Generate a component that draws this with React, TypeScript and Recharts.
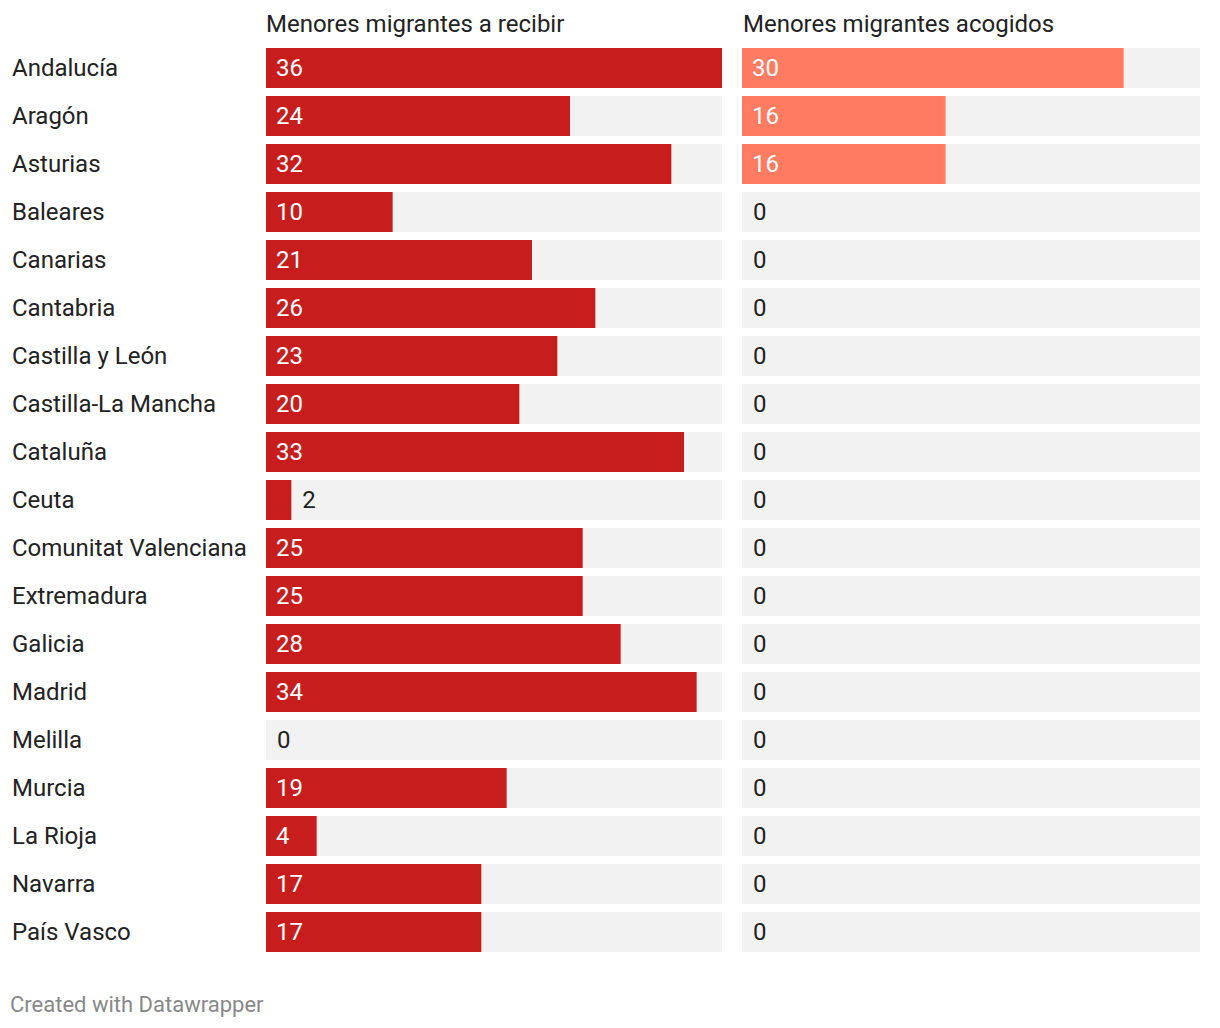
import { BarChart, Bar, XAxis, YAxis, LabelList } from "recharts";

const regions = [
  "Andalucía",
  "Aragón",
  "Asturias",
  "Baleares",
  "Canarias",
  "Cantabria",
  "Castilla y León",
  "Castilla-La Mancha",
  "Cataluña",
  "Ceuta",
  "Comunitat Valenciana",
  "Extremadura",
  "Galicia",
  "Madrid",
  "Melilla",
  "Murcia",
  "La Rioja",
  "Navarra",
  "País Vasco",
];

const aRecibir = [36, 24, 32, 10, 21, 26, 23, 20, 33, 2, 25, 25, 28, 34, 0, 19, 4, 17, 17];
const acogidos = [30, 16, 16, 0, 0, 0, 0, 0, 0, 0, 0, 0, 0, 0, 0, 0, 0, 0, 0];

const chartData = regions.map((region, i) => ({
  region,
  recibir: aRecibir[i],
  acogidos: acogidos[i],
}));

const FONT = "Roboto, sans-serif";
const TEXT = "#222222";

function ValueLabel(props: any) {
  const { x, y, width, height, value } = props;
  const inside = width >= 40;
  return (
    <text
      x={inside ? x + 10 : x + width + 11}
      y={y + height / 2}
      dominantBaseline="central"
      fontSize={24}
      fontFamily={FONT}
      fill={inside ? "#ffffff" : TEXT}
    >
      {value}
    </text>
  );
}

function RegionTick(props: any) {
  const { y, payload } = props;
  return (
    <text x={12} y={y} dominantBaseline="central" fontSize={24} fontFamily={FONT} fill={TEXT}>
      {payload.value}
    </text>
  );
}

const titleStyle: React.CSSProperties = {
  position: "absolute",
  top: 9,
  fontSize: 24,
  fontFamily: FONT,
  color: TEXT,
  lineHeight: "30px",
  whiteSpace: "nowrap",
};

export default function App() {
  return (
    <div
      style={{
        position: "absolute",
        left: 0,
        top: 0,
        width: 1220,
        height: 1028,
        background: "#ffffff",
        fontFamily: FONT,
      }}
    >
      <div style={{ ...titleStyle, left: 266 }}>Menores migrantes a recibir</div>
      <div style={{ ...titleStyle, left: 743 }}>Menores migrantes acogidos</div>

      <div style={{ position: "absolute", left: 0, top: 0 }}>
        <BarChart
          width={722}
          height={956}
          data={chartData}
          layout="vertical"
          margin={{ top: 44, right: 0, bottom: 0, left: 0 }}
        >
          <XAxis type="number" domain={[0, 36]} hide />
          <YAxis
            type="category"
            dataKey="region"
            width={266}
            axisLine={false}
            tickLine={false}
            tick={<RegionTick />}
          />
          <Bar
            dataKey="recibir"
            fill="#c71e1d"
            barSize={40}
            minPointSize={0.001}
            background={{ fill: "#f2f2f2" }}
            isAnimationActive={false}
          >
            <LabelList dataKey="recibir" content={<ValueLabel />} />
          </Bar>
        </BarChart>
      </div>

      <div style={{ position: "absolute", left: 742, top: 0 }}>
        <BarChart
          width={458}
          height={956}
          data={chartData}
          layout="vertical"
          margin={{ top: 44, right: 0, bottom: 0, left: 0 }}
        >
          <XAxis type="number" domain={[0, 36]} hide />
          <YAxis type="category" dataKey="region" hide width={0} />
          <Bar
            dataKey="acogidos"
            fill="#ff7b62"
            barSize={40}
            minPointSize={0.001}
            background={{ fill: "#f2f2f2" }}
            isAnimationActive={false}
          >
            <LabelList dataKey="acogidos" content={<ValueLabel />} />
          </Bar>
        </BarChart>
      </div>

      <div
        style={{
          position: "absolute",
          left: 10,
          top: 990,
          fontSize: 22,
          fontFamily: FONT,
          color: "#888888",
          lineHeight: "30px",
          whiteSpace: "nowrap",
        }}
      >
        Created with Datawrapper
      </div>
    </div>
  );
}
